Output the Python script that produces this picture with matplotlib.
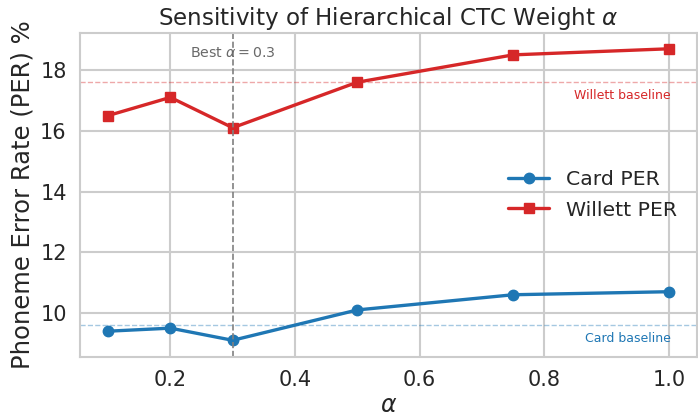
import matplotlib
matplotlib.use("Agg")
import matplotlib.pyplot as plt
import seaborn as sns

sns.set_theme(style="whitegrid")
plt.rcParams['font.family'] = ['DejaVu Sans']

alpha = [0.1, 0.2, 0.3, 0.5, 0.75, 1.0]
card_per = [9.4, 9.5, 9.1, 10.1, 10.6, 10.7]
willett_per = [16.5, 17.1, 16.1, 17.6, 18.5, 18.7]
card_baseline = 9.6
willett_baseline = 17.6
best_alpha = 0.3

blue = "#1f77b4"
red = "#d62728"

fig = plt.figure(figsize=(6.98, 4.16), dpi=100)
ax = fig.add_axes([80/698, 59/416, 617/698, 324/416])

ax.plot(alpha, card_per, marker="o", color=blue, lw=2.4, ms=7.5, label="Card PER")
ax.plot(alpha, willett_per, marker="s", color=red, lw=2.4, ms=7.5, label="Willett PER")
ax.axhline(card_baseline, color=blue, ls="--", lw=1, alpha=0.4)
ax.axhline(willett_baseline, color=red, ls="--", lw=1, alpha=0.4)
ax.axvline(best_alpha, color="gray", ls="--", lw=1.2)

ax.set_xlim(0.055, 1.045)
ax.set_ylim(8.55, 19.22)
ax.set_xticks([0.2, 0.4, 0.6, 0.8, 1.0])
ax.set_yticks([10, 12, 14, 16, 18])

ax.text(best_alpha, 18.55, r"Best $\alpha=0.3$", ha="center", va="center", color="dimgray", fontsize=10.2)
ax.text(1.003, willett_baseline - 0.45, "Willett baseline", ha="right", va="center", color=red, fontsize=9)
ax.text(1.003, card_baseline - 0.45, "Card baseline", ha="right", va="center", color=blue, fontsize=9)

ax.set_title(r"Sensitivity of Hierarchical CTC Weight $\alpha$", fontsize=16.6, color="#262626")
ax.set_xlabel(r"$\alpha$", fontsize=17, labelpad=2)
ax.set_ylabel("Phoneme Error Rate (PER) %", fontsize=17.5)
ax.tick_params(labelsize=15)
ax.legend(loc="center right", frameon=False, fontsize=14.7, bbox_to_anchor=(0.997, 0.5),
          handlelength=2.0, labelspacing=0.55)

for s in ax.spines.values():
    s.set_color("#cccccc")
    s.set_linewidth(1.5)
ax.grid(color="#cccccc", lw=1.5)

fig.savefig("out.png", dpi=100)
